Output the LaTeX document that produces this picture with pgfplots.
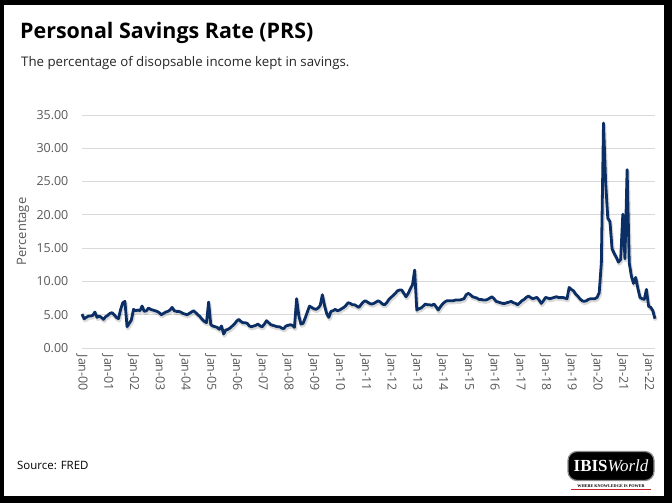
\documentclass[border=0pt]{standalone}
\usepackage{fontspec}
\setmainfont{Open Sans}
\newfontfamily\logoserif{Liberation Serif}
\usepackage{pgfplots}
\usepackage{pgfplotstable}
\pgfplotsset{compat=1.18}

\definecolor{prsblue}{HTML}{0B2F64}
\definecolor{tickgray}{HTML}{595959}
\definecolor{gridgray}{HTML}{D9D9D9}
\definecolor{logored}{HTML}{C0282D}

% monthly personal savings rate, Jan 2000 = 0 ... Apr 2022 = 267
\pgfplotstableread[row sep=\\]{
m r\\
0 5.1\\ 1 4.4\\ 2 4.6\\ 3 4.8\\ 4 4.8\\ 5 4.9\\ 6 5.4\\ 7 4.6\\ 8 4.8\\ 9 4.6\\ 10 4.3\\ 11 4.7\\
12 4.9\\ 13 5.2\\ 14 5.3\\ 15 5.0\\ 16 4.6\\ 17 4.4\\ 18 5.8\\ 19 6.8\\ 20 7.0\\ 21 3.2\\ 22 3.7\\ 23 4.2\\
24 5.8\\ 25 5.6\\ 26 5.7\\ 27 5.6\\ 28 6.3\\ 29 5.5\\ 30 5.6\\ 31 6.0\\ 32 5.8\\ 33 5.7\\ 34 5.6\\ 35 5.5\\
36 5.3\\ 37 5.0\\ 38 5.2\\ 39 5.4\\ 40 5.5\\ 41 5.7\\ 42 6.1\\ 43 5.6\\ 44 5.5\\ 45 5.5\\ 46 5.4\\ 47 5.2\\
48 5.1\\ 49 5.0\\ 50 5.2\\ 51 5.4\\ 52 5.6\\ 53 5.3\\ 54 5.0\\ 55 4.7\\ 56 4.3\\ 57 4.0\\ 58 3.8\\ 59 6.9\\
60 3.5\\ 61 3.3\\ 62 3.2\\ 63 3.1\\ 64 2.8\\ 65 3.3\\ 66 2.1\\ 67 2.7\\ 68 2.8\\ 69 3.0\\ 70 3.3\\ 71 3.6\\
72 4.0\\ 73 4.3\\ 74 4.0\\ 75 3.8\\ 76 3.8\\ 77 3.7\\ 78 3.3\\ 79 3.2\\ 80 3.3\\ 81 3.4\\ 82 3.6\\ 83 3.3\\
84 3.2\\ 85 3.6\\ 86 4.1\\ 87 3.8\\ 88 3.5\\ 89 3.4\\ 90 3.3\\ 91 3.2\\ 92 3.2\\ 93 3.0\\ 94 2.9\\ 95 3.3\\
96 3.4\\ 97 3.5\\ 98 3.4\\ 99 3.1\\ 100 7.4\\ 101 4.9\\ 102 3.6\\ 103 3.7\\ 104 4.5\\ 105 5.4\\ 106 6.3\\ 107 6.1\\
108 5.9\\ 109 5.8\\ 110 6.0\\ 111 6.4\\ 112 8.0\\ 113 6.4\\ 114 5.2\\ 115 4.6\\ 116 5.5\\ 117 5.6\\ 118 5.8\\ 119 5.6\\
120 5.7\\ 121 5.9\\ 122 6.1\\ 123 6.4\\ 124 6.8\\ 125 6.7\\ 126 6.5\\ 127 6.5\\ 128 6.3\\ 129 6.1\\ 130 6.5\\ 131 6.9\\
132 7.1\\ 133 6.9\\ 134 6.7\\ 135 6.6\\ 136 6.7\\ 137 6.9\\ 138 7.1\\ 139 6.9\\ 140 6.6\\ 141 6.5\\ 142 6.8\\ 143 7.3\\
144 7.6\\ 145 7.9\\ 146 8.2\\ 147 8.6\\ 148 8.7\\ 149 8.7\\ 150 8.2\\ 151 7.7\\ 152 8.2\\ 153 8.9\\ 154 9.5\\ 155 11.7\\
156 5.7\\ 157 5.9\\ 158 6.0\\ 159 6.3\\ 160 6.6\\ 161 6.5\\ 162 6.5\\ 163 6.4\\ 164 6.6\\ 165 6.2\\ 166 5.7\\ 167 6.2\\
168 6.6\\ 169 6.9\\ 170 7.1\\ 171 7.1\\ 172 7.1\\ 173 7.1\\ 174 7.2\\ 175 7.2\\ 176 7.2\\ 177 7.3\\ 178 7.4\\ 179 8.0\\
180 8.2\\ 181 8.0\\ 182 7.7\\ 183 7.6\\ 184 7.5\\ 185 7.3\\ 186 7.3\\ 187 7.2\\ 188 7.2\\ 189 7.3\\ 190 7.5\\ 191 7.7\\
192 7.4\\ 193 7.0\\ 194 6.9\\ 195 6.8\\ 196 6.7\\ 197 6.7\\ 198 6.8\\ 199 6.9\\ 200 7.0\\ 201 6.8\\ 202 6.7\\ 203 6.5\\
204 6.8\\ 205 7.1\\ 206 7.3\\ 207 7.6\\ 208 7.8\\ 209 7.6\\ 210 7.4\\ 211 7.5\\ 212 7.6\\ 213 7.2\\ 214 6.7\\ 215 7.1\\
216 7.6\\ 217 7.5\\ 218 7.4\\ 219 7.5\\ 220 7.6\\ 221 7.7\\ 222 7.6\\ 223 7.6\\ 224 7.6\\ 225 7.5\\ 226 7.4\\ 227 9.1\\
228 8.8\\ 229 8.6\\ 230 8.1\\ 231 7.8\\ 232 7.4\\ 233 7.1\\ 234 7.0\\ 235 7.1\\ 236 7.3\\ 237 7.4\\ 238 7.4\\ 239 7.4\\
240 7.6\\ 241 8.3\\ 242 12.8\\ 243 33.8\\ 244 24.9\\ 245 19.5\\ 246 19.0\\ 247 14.9\\ 248 14.2\\ 249 13.6\\ 250 12.9\\ 251 13.3\\
252 20.1\\ 253 13.4\\ 254 26.8\\ 255 12.8\\ 256 10.8\\ 257 9.7\\ 258 10.6\\ 259 9.0\\ 260 7.6\\ 261 7.4\\ 262 7.3\\ 263 8.8\\
264 6.3\\ 265 6.1\\ 266 5.6\\ 267 4.4\\
}\prs

\begin{document}
\begin{tikzpicture}
\useasboundingbox (0,0) rectangle (672bp,503bp);
\fill[black] (0,0) rectangle (672bp,503bp);
\fill[white] (4bp,7bp) rectangle (664bp,498bp);

\node[anchor=base west, inner sep=0, font=\fontsize{21.5}{24}\selectfont\bfseries]
  at (20bp,464bp) {Personal Savings Rate (PRS)};
\node[anchor=base west, inner sep=0, text=black!85, font=\fontsize{13.3}{16}\selectfont]
  at (21bp,436bp) {The percentage of disopsable income kept in savings.};
\node[anchor=base west, inner sep=0, font=\fontsize{11.5}{13}\selectfont]
  at (17bp,34bp) {Source: FRED};

% logo
\node[fill=black, draw=black!45, line width=1.2bp, rounded corners=9bp,
  minimum width=86bp, minimum height=29bp, inner sep=0, text=white]
  at (611bp,37bp) {\logoserif\fontsize{17}{17}\selectfont\bfseries IBIS\mdseries\itshape World};
\node[inner sep=0, font=\logoserif\fontsize{4.2}{5}\selectfont\bfseries]
  at (611bp,17bp) {WHERE KNOWLEDGE IS POWER};
\draw[logored, line width=0.6bp] (571bp,14bp) -- (651bp,14bp);

\begin{axis}[
  at={(82bp,155bp)}, anchor=south west,
  scale only axis, width=573bp, height=233bp,
  xmin=0, xmax=267, ymin=0, ymax=35,
  clip=false,
  axis line style={draw=none},
  major tick length=0,
  ymajorgrids,
  major grid style={gridgray, line width=0.9bp},
  ytick={0,5,...,35},
  scaled y ticks=false,
  yticklabel style={font=\fontsize{12.5}{14}\selectfont, text=tickgray,
    inner xsep=0pt, xshift=-13.5bp,
    /pgf/number format/fixed, /pgf/number format/fixed zerofill,
    /pgf/number format/precision=2, /pgf/number format/assume math mode=true},
  xtick={0,12,...,264},
  xticklabels={Jan-00,Jan-01,Jan-02,Jan-03,Jan-04,Jan-05,Jan-06,Jan-07,Jan-08,Jan-09,Jan-10,Jan-11,
    Jan-12,Jan-13,Jan-14,Jan-15,Jan-16,Jan-17,Jan-18,Jan-19,Jan-20,Jan-21,Jan-22},
  xticklabel style={font=\fontsize{12.5}{14}\selectfont, text=tickgray,
    rotate=-90, anchor=west, inner xsep=6.5bp, inner ysep=0pt},
  ylabel={Percentage},
  ylabel style={at={(axis description cs:-0.103,0.5)}, anchor=center,
    font=\fontsize{13}{15}\selectfont, text=tickgray},
]
\addplot[black, opacity=0.15, line width=3.8bp, line join=round, no markers, forget plot,
  transform canvas={xshift=0.8bp, yshift=-1.8bp}] table[x=m, y=r] {\prs};
\addplot[prsblue, line width=2.8bp, line join=round, no markers] table[x=m, y=r] {\prs};
\end{axis}
\end{tikzpicture}
\end{document}
